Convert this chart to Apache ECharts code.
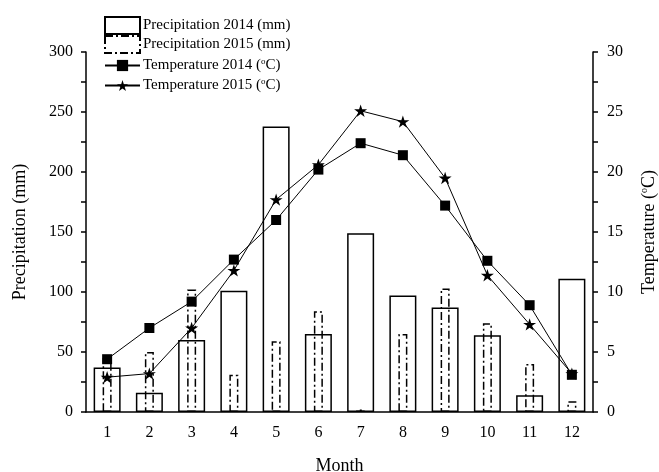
<!DOCTYPE html>
<html>
<head>
<meta charset="utf-8">
<script src="https://cdn.jsdelivr.net/npm/echarts@6/dist/echarts.min.js"></script>
<style>
  html, body { margin: 0; padding: 0; background: #fff; }
  #chart { width: 659px; height: 472px; }
</style>
</head>
<body>
<div id="chart"></div>
<script>
const months = ['1', '2', '3', '4', '5', '6', '7', '8', '9', '10', '11', '12'];
const precip2014 = [37, 16, 60, 101, 238, 65, 149, 97, 87, 64, 14, 111];
const precip2015 = [45, 50, 102, 31, 59, 84, 2, 65, 103, 74, 40, 9];
const temp2014 = [4.4, 7.0, 9.2, 12.7, 16.0, 20.2, 22.4, 21.4, 17.2, 12.6, 8.9, 3.1];
const temp2015 = [2.9, 3.2, 7.0, 11.8, 17.7, 20.6, 25.1, 24.2, 19.5, 11.4, 7.3, 3.2];

const font = '"Liberation Serif", "Times New Roman", serif';
const star = 'path://M100,0L122.45,69.1L195.1,69.1L136.33,111.8L158.8,180.9L100,138.2L41.2,180.9L63.67,111.8L4.9,69.1L77.55,69.1Z';
const dashDot = [8, 3, 2, 3];

const rich = {
  t: { fontFamily: font, fontSize: 15, color: '#000' },
  s: { fontFamily: font, fontSize: 9, color: '#000', verticalAlign: 'top', padding: [0, 0, 8, 0] }
};

function legendText(name) {
  // temperature names get a superscript o
  if (name.indexOf('Temperature') === 0) {
    return '{t|' + name.replace(' (C)', ' (') + '}{s|o}{t|C)}';
  }
  return '{t|' + name + '}';
}

const chart = echarts.init(document.getElementById('chart'));

chart.setOption({
  backgroundColor: '#fff',
  animation: false,
  textStyle: { fontFamily: font, color: '#000' },
  grid: { left: 86, right: 66, top: 52, bottom: 60, outerBoundsMode: 'none' },
  legend: [
    {
      data: [
        { name: 'Precipitation 2014 (mm)' },
        { name: 'Precipitation 2015 (mm)', itemStyle: { borderType: dashDot } }
      ],
      orient: 'vertical',
      left: 104, top: 16, padding: 0,
      itemWidth: 35, itemHeight: 17, itemGap: 0,
      icon: 'rect',
      formatter: legendText,
      textStyle: { rich: rich, padding: [0, 0, 0, -2] }
    },
    {
      data: ['Temperature 2014 (C)', 'Temperature 2015 (C)'],
      orient: 'vertical',
      left: 104, top: 57, padding: 0,
      itemWidth: 35, itemHeight: 14, itemGap: 4,
      formatter: legendText,
      textStyle: { rich: rich, padding: [0, 0, 0, -2] }
    }
  ],
  xAxis: [
    {
      type: 'category',
      data: months,
      name: 'Month',
      nameLocation: 'middle',
      nameGap: 45,
      nameTextStyle: { fontFamily: font, fontSize: 18, color: '#000' },
      axisLine: { lineStyle: { color: '#000', width: 1.5 } },
      axisTick: { alignWithLabel: true, length: 5, lineStyle: { color: '#000', width: 1.5 } },
      axisLabel: { fontFamily: font, fontSize: 16, color: '#000', margin: 13 }
    },
    {
      type: 'category',
      data: months,
      show: false
    }
  ],
  yAxis: [
    {
      type: 'value',
      min: 0, max: 300, interval: 50,
      name: 'Precipitation (mm)',
      nameLocation: 'middle',
      nameRotate: 90,
      nameGap: 57,
      nameTextStyle: { fontFamily: font, fontSize: 18, color: '#000' },
      splitLine: { show: false },
      axisLine: { show: true, lineStyle: { color: '#000', width: 1.5 } },
      axisTick: { show: true, length: 5, lineStyle: { color: '#000', width: 1.5 } },
      minorTick: { show: true, splitNumber: 2, length: 5, lineStyle: { color: '#000', width: 1.5 } },
      axisLabel: { fontFamily: font, fontSize: 16, color: '#000', margin: 13 }
    },
    {
      type: 'value',
      min: 0, max: 30, interval: 5,
      name: 'Temperature ({s|o}C)',
      nameLocation: 'middle',
      nameRotate: 90,
      nameGap: 46,
      nameTextStyle: {
        fontFamily: font, fontSize: 18, color: '#000',
        rich: { s: { fontFamily: font, fontSize: 10, color: '#000', verticalAlign: 'top', padding: [0, 0, 10, 0] } }
      },
      splitLine: { show: false },
      axisLine: { show: true, lineStyle: { color: '#000', width: 1.5 } },
      axisTick: { show: true, length: 5, lineStyle: { color: '#000', width: 1.5 } },
      minorTick: { show: true, splitNumber: 2, length: 5, lineStyle: { color: '#000', width: 1.5 } },
      axisLabel: { fontFamily: font, fontSize: 16, color: '#000', margin: 14 }
    }
  ],
  series: [
    {
      name: 'Precipitation 2014 (mm)',
      type: 'bar',
      xAxisIndex: 0,
      yAxisIndex: 0,
      barWidth: 27,
      data: precip2014,
      itemStyle: { color: 'rgba(255,255,255,0)', borderColor: '#000', borderWidth: 1.5 }
    },
    {
      name: 'Precipitation 2015 (mm)',
      type: 'bar',
      xAxisIndex: 1,
      yAxisIndex: 0,
      barWidth: 9,
      data: precip2015,
      itemStyle: { color: 'rgba(255,255,255,0)', borderColor: '#000', borderWidth: 1.5, borderType: dashDot }
    },
    {
      name: 'Temperature 2014 (C)',
      type: 'line',
      xAxisIndex: 0,
      yAxisIndex: 1,
      data: temp2014,
      symbol: 'rect',
      symbolSize: 10,
      lineStyle: { color: '#000', width: 1 },
      itemStyle: { color: '#000' },
      z: 5
    },
    {
      name: 'Temperature 2015 (C)',
      type: 'line',
      xAxisIndex: 0,
      yAxisIndex: 1,
      data: temp2015,
      symbol: star,
      symbolSize: 13,
      symbolKeepAspect: true,
      lineStyle: { color: '#000', width: 1 },
      itemStyle: { color: '#000' },
      z: 5
    }
  ]
});
</script>
</body>
</html>
